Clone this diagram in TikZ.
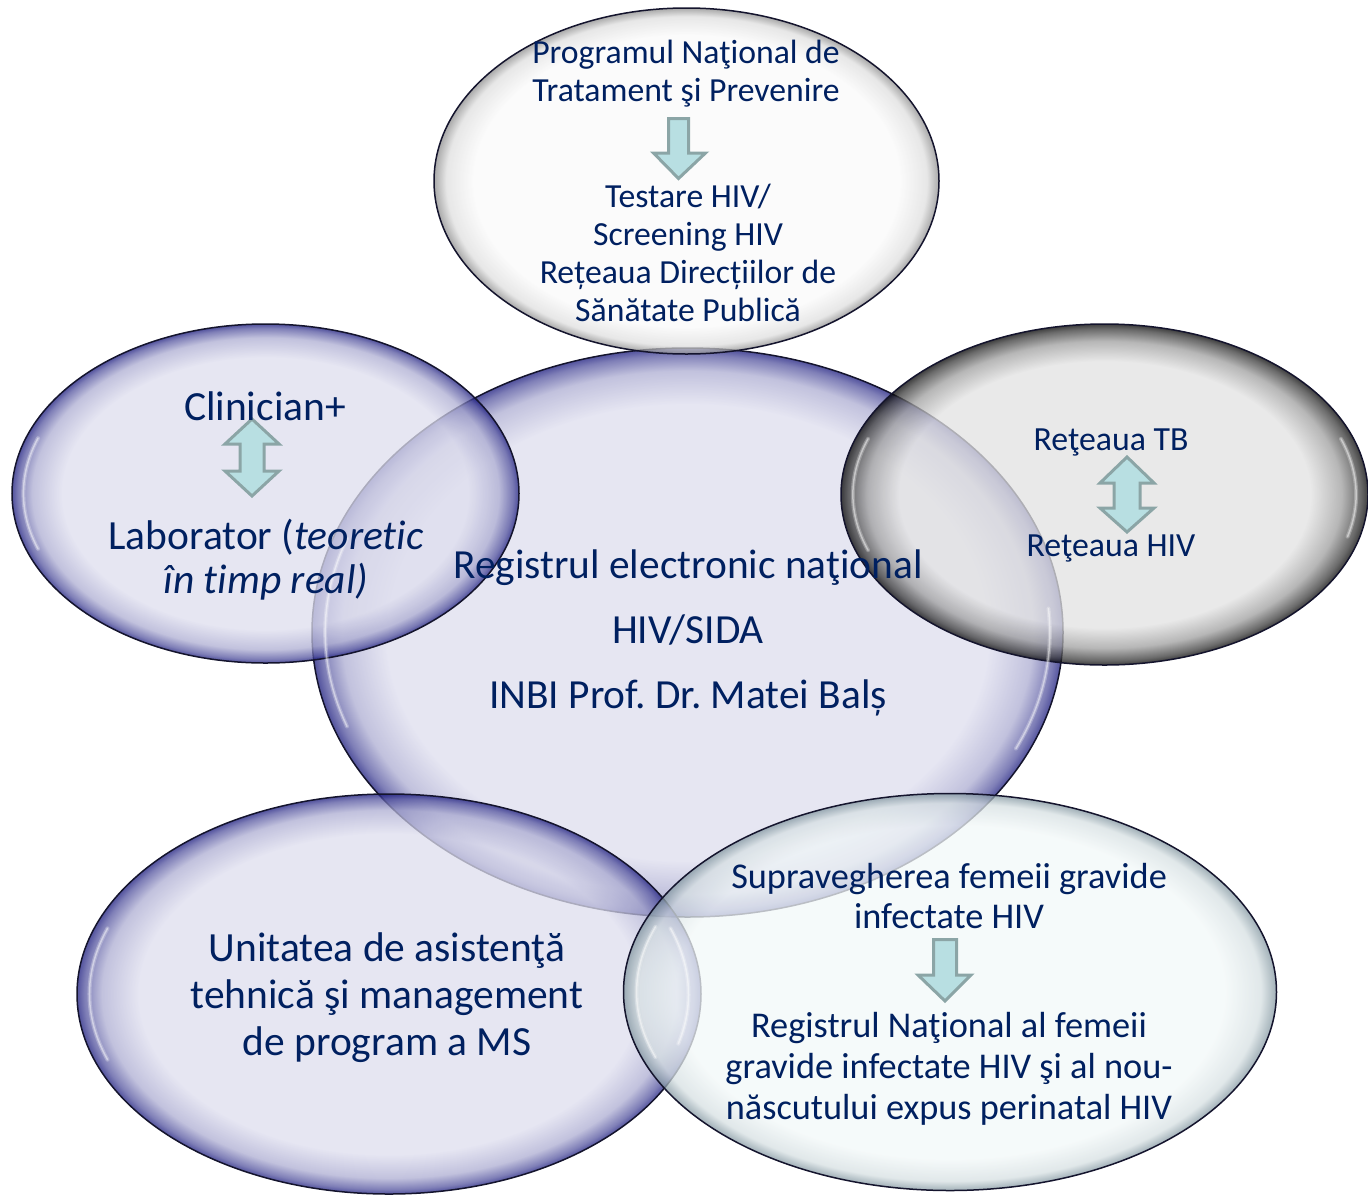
\documentclass[tikz,border=0pt]{standalone}
\usepackage{fontspec}
\setmainfont{Carlito}[Ligatures={NoCommon}]
\usetikzlibrary{shapes.geometric}
\frenchspacing
\definecolor{txt}{RGB}{0,32,96}
\definecolor{lav}{RGB}{222,222,238}
\definecolor{lavrim}{RGB}{25,25,125}
\definecolor{gin}{RGB}{226,226,226}
\definecolor{grim}{RGB}{0,0,0}
\definecolor{win}{RGB}{250,250,250}
\definecolor{wrim}{RGB}{140,140,140}
\definecolor{cin}{RGB}{242,248,248}
\definecolor{crim}{RGB}{130,150,160}
\definecolor{arrowfill}{RGB}{184,223,226}
\definecolor{arrowline}{RGB}{139,165,166}
\definecolor{edge}{RGB}{20,20,45}
\pgfdeclareradialshading{lavball}{\pgfpoint{0bp}{0bp}}{color(0bp)=(lav); color(20bp)=(lav); color(23bp)=(lav!75!lavrim); color(24.4bp)=(lav!30!lavrim); color(25bp)=(lavrim); color(50bp)=(lavrim)}
\pgfdeclareradialshading{greyball}{\pgfpoint{0bp}{0bp}}{color(0bp)=(gin); color(19.5bp)=(gin); color(22.5bp)=(gin!70!grim); color(24.3bp)=(gin!25!grim); color(25bp)=(grim); color(50bp)=(grim)}
\pgfdeclareradialshading{whiteball}{\pgfpoint{0bp}{0bp}}{color(0bp)=(win); color(21bp)=(win); color(23.8bp)=(win!75!wrim); color(25bp)=(wrim); color(50bp)=(wrim)}
\pgfdeclareradialshading{cyanball}{\pgfpoint{0bp}{0bp}}{color(0bp)=(cin); color(21bp)=(cin); color(23.8bp)=(cin!75!crim); color(25bp)=(crim); color(50bp)=(crim)}
\tikzset{
  bubble/.style={ellipse, inner sep=0pt, shade, draw=edge, line width=1.5pt, fill opacity=0.75},
  label/.style={text=txt, align=center, inner sep=0pt},
  blockarrow/.style={fill=arrowfill, draw=arrowline, line width=3pt, line join=miter},
  glint/.style={white, line width=4pt, opacity=0.25, line cap=round},
  glintcore/.style={white, line width=1.5pt, opacity=0.45, line cap=round}
}
\begin{document}
\begin{tikzpicture}[x=1pt,y=-1pt]
\useasboundingbox (0,0) rectangle (1368,1197);
% bubbles
\node[bubble, shading=lavball, minimum width=751pt, minimum height=569pt] (center) at (687.5,632.5) {};
\node[bubble, shading=whiteball, minimum width=505pt, minimum height=346pt] (top) at (686.5,181) {};
\node[bubble, shading=lavball, minimum width=507pt, minimum height=339pt] (left) at (265.5,493.5) {};
\node[bubble, shading=greyball, minimum width=527pt, minimum height=341pt] (right) at (1104.5,494.5) {};
\node[bubble, shading=lavball, minimum width=624pt, minimum height=400pt] (bl) at (389,994) {};
\node[bubble, shading=cyanball, minimum width=653pt, minimum height=397pt] (br) at (950,992) {};
% glints
\foreach \s in {glint,glintcore}{
\draw[\s] plot[domain=160:200, samples=25] ({265.5+0.955*253.5*cos(\x)},{493.5+0.955*169.5*sin(\x)});
\draw[\s] plot[domain=160:200, samples=25] ({687.5+0.965*375.5*cos(\x)},{632.5+0.965*284.5*sin(\x)});
\draw[\s] plot[domain=-5:25, samples=25] ({687.5+0.965*375.5*cos(\x)},{632.5+0.965*284.5*sin(\x)});
\draw[\s] plot[domain=160:200, samples=25] ({1104.5+0.955*263.5*cos(\x)},{494.5+0.955*170.5*sin(\x)});
\draw[\s] plot[domain=-20:15, samples=25] ({1104.5+0.955*263.5*cos(\x)},{494.5+0.955*170.5*sin(\x)});
\draw[\s] plot[domain=160:200, samples=25] ({389+0.96*312*cos(\x)},{994+0.96*200*sin(\x)});
\draw[\s] plot[domain=-20:15, samples=25] ({389+0.96*312*cos(\x)},{994+0.96*200*sin(\x)});
\draw[\s] plot[domain=160:200, samples=25] ({950+0.96*326.5*cos(\x)},{992+0.96*198.5*sin(\x)});
}
% arrows
\draw[blockarrow] (668.5,118.5) -- (688.5,118.5) -- (688.5,153) -- (705.5,153) -- (678.5,178.5) -- (653.5,153) -- (668.5,153) -- cycle;
\draw[blockarrow] (252,419) -- (279,444) -- (264,444) -- (264,471) -- (279,471) -- (252,496) -- (225,471) -- (240,471) -- (240,444) -- (225,444) -- cycle;
\draw[blockarrow] (1127,457) -- (1154,483) -- (1140,483) -- (1140,508) -- (1154,508) -- (1127,532) -- (1100,508) -- (1114,508) -- (1114,483) -- (1100,483) -- cycle;
\draw[blockarrow] (933.5,939.5) -- (956.5,939.5) -- (956.5,975) -- (971,975) -- (945,1001) -- (918,975) -- (933.5,975) -- cycle;
% texts
\node[label, font=\fontsize{33.7}{38}\selectfont] (t1) at (686,74) {Programul Naţional de\\Tratament şi Prevenire};
\node[label, font=\fontsize{33.7}{38}\selectfont] (t2) at (688,253) {Testare HIV/\\Screening HIV\\ Rețeaua Direcțiilor de\\Sănătate Publică};
\node[label, font=\fontsize{41.5}{44}\selectfont] (l1) at (265,406) {Clinician+};
\node[label, font=\fontsize{41.5}{44}\selectfont] (l2) at (266,560) {Laborator (\textit{teoretic}\\\textit{în timp real)}};
\node[label, font=\fontsize{41.4}{65}\selectfont] (c1) at (688,633) {Registrul electronic naţional\\HIV/SIDA\\INBI Prof. Dr. Matei Balș};
\node[label, font=\fontsize{33.8}{36}\selectfont] (r1) at (1111,442) {Reţeaua TB};
\node[label, font=\fontsize{33.8}{36}\selectfont] (r2) at (1111,548) {Reţeaua HIV};
\node[label, font=\fontsize{41.5}{47}\selectfont] (b1) at (387,998) {Unitatea de asistenţă\\tehnică şi management\\de program a MS};
\node[label, font=\fontsize{36.3}{40}\selectfont] (s1) at (949,896) {Supravegherea femeii gravide\\infectate HIV};
\node[label, font=\fontsize{36.3}{41}\selectfont] (s2) at (949,1069) {Registrul Naţional al femeii\\gravide infectate HIV şi al nou-\\născutului expus perinatal HIV};
\end{tikzpicture}
\end{document}
